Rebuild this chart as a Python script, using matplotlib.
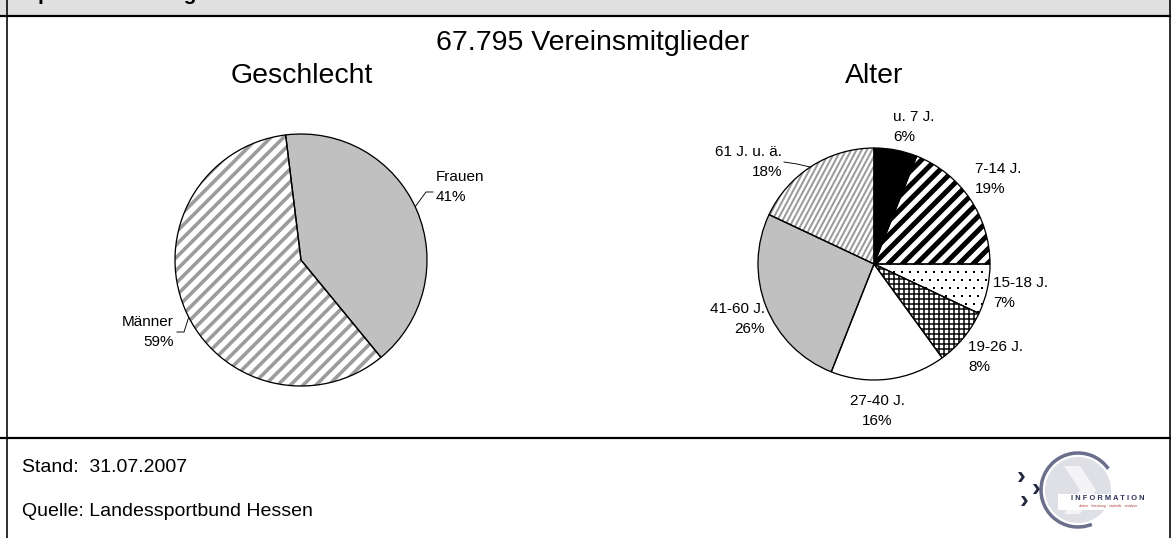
import numpy as np
import matplotlib
matplotlib.use('Agg')
import matplotlib.pyplot as plt
from matplotlib.collections import LineCollection
from matplotlib.patches import Rectangle, Circle, Arc, Polygon

# ---------------- data ----------------
header_text = "Sportvereinsmitglieder"
title = "67.795 Vereinsmitglieder"
gender_title = "Geschlecht"
gender_labels = ["Frauen", "Männer"]
gender_values = [41, 59]
age_title = "Alter"
age_labels = ["u. 7 J.", "7-14 J.", "15-18 J.", "19-26 J.", "27-40 J.", "41-60 J.", "61 J. u. ä."]
age_values = [6, 19, 7, 8, 16, 26, 18]
stand = "31.07.2007"
quelle = "Landessportbund Hessen"

W, H, DPI = 1171, 538, 100
plt.rcParams['font.family'] = ['Liberation Sans', 'DejaVu Sans']

fig = plt.figure(figsize=(W / DPI, H / DPI), dpi=DPI)
fig.patch.set_facecolor('white')
bg = fig.add_axes([0, 0, 1, 1])
bg.set_xlim(0, W)
bg.set_ylim(H, 0)
bg.axis('off')

PT = 72.0 / DPI  # points per pixel

# ---------------- frame ----------------
bg.add_patch(Rectangle((0, 0), W, 15, facecolor='#e0e0e0', edgecolor='none'))
bg.plot([0, W], [15.5, 15.5], color='black', lw=2.2 * PT, solid_capstyle='butt')
bg.plot([7, 7], [0, H], color='black', lw=1.6 * PT, solid_capstyle='butt')
bg.plot([W - 1, W - 1], [0, H], color='black', lw=1.6 * PT, solid_capstyle='butt')
bg.plot([0, W], [437.5, 437.5], color='black', lw=2.2 * PT, solid_capstyle='butt')
bg.text(24, -0.5, header_text, fontsize=15, fontweight='bold', va='baseline', ha='left')

# ---------------- titles ----------------
bg.text(593, 43, title, fontsize=20.5, ha='center', va='center')
bg.text(302, 76, gender_title, fontsize=20.5, ha='center', va='center')
bg.text(874, 76, age_title, fontsize=20.5, ha='center', va='center')


def pie_axes(cx, cy, r):
    half = 1.25 * r
    return fig.add_axes([(cx - half) / W, (H - cy - half) / H, 2 * half / W, 2 * half / H])


def stripes(ax, wedge, r_px, angle_deg, period_px, width_px, color):
    th = np.deg2rad(angle_deg)
    d = np.array([np.cos(th), np.sin(th)])
    n = np.array([-np.sin(th), np.cos(th)])
    s = period_px / r_px
    ks = np.arange(-int(1.5 / s) - 1, int(1.5 / s) + 2)
    segs = [[k * s * n - 1.6 * d, k * s * n + 1.6 * d] for k in ks]
    lc = LineCollection(segs, colors=color, linewidths=width_px * PT, zorder=2)
    ax.add_collection(lc)
    lc.set_clip_path(wedge)


def grid(ax, wedge, r_px, period_px, width_px, color):
    s = period_px / r_px
    ks = np.arange(-int(1.2 / s) - 1, int(1.2 / s) + 2)
    segs = [[(k * s, -1.2), (k * s, 1.2)] for k in ks] + [[(-1.2, k * s), (1.2, k * s)] for k in ks]
    lc = LineCollection(segs, colors=color, linewidths=width_px * PT, zorder=2)
    ax.add_collection(lc)
    lc.set_clip_path(wedge)


def dots(ax, wedge, r_px, period_px, size_px, color):
    s = period_px / r_px
    xs, ys = [], []
    ks = np.arange(-int(1.2 / s) - 1, int(1.2 / s) + 2)
    for j in ks:
        for i in ks:
            xs.append(i * s + (0.5 * s if j % 2 else 0))
            ys.append(j * s)
    sc = ax.scatter(xs, ys, s=(size_px * PT) ** 2, c=color, marker='s', linewidths=0, zorder=2)
    sc.set_clip_path(wedge)


# ---------------- Geschlecht pie ----------------
gcx, gcy, gr = 301, 260, 126
ax1 = pie_axes(gcx, gcy, gr)
w1, _ = ax1.pie(gender_values, colors=['#c0c0c0', 'white'], startangle=97, counterclock=False,
                wedgeprops=dict(edgecolor='none', linewidth=0))
stripes(ax1, w1[1], gr, 45, 9.0, 3.6, '#9c9c9c')
ax1.pie(gender_values, colors=['none', 'none'], startangle=97, counterclock=False,
        wedgeprops=dict(edgecolor='black', linewidth=1.3 * PT, fill=False, zorder=3))

LFS = 11.0
LSP = 1.55
bg.text(436, 187, f"{gender_labels[0]}\n{gender_values[0]}%", fontsize=LFS, ha='left', va='center',
        linespacing=LSP)
bg.plot([415, 426, 433], [207, 192, 192], color='black', lw=0.9 * PT)
bg.text(174, 332, f"{gender_labels[1]}\n{gender_values[1]}%", fontsize=LFS, ha='right', va='center',
        linespacing=LSP, multialignment='right')
bg.plot([177, 184, 190], [332, 332, 313], color='black', lw=0.9 * PT)

# ---------------- Alter pie ----------------
acx, acy, ar = 874, 264, 116
ax2 = pie_axes(acx, acy, ar)
age_colors = ['black', 'white', 'white', 'white', 'white', '#c0c0c0', 'white']
w2, _ = ax2.pie(age_values, colors=age_colors, startangle=90, counterclock=False,
                wedgeprops=dict(edgecolor='none', linewidth=0))
stripes(ax2, w2[1], ar, 45, 10.0, 5.0, 'black')
dots(ax2, w2[2], ar, 8.0, 1.6, 'black')
grid(ax2, w2[3], ar, 5.0, 1.5, 'black')
stripes(ax2, w2[6], ar, 62, 4.6, 2.0, '#9a9a9a')
ax2.pie(age_values, colors=['none'] * len(age_values), startangle=90, counterclock=False,
        wedgeprops=dict(edgecolor='black', linewidth=1.3 * PT, fill=False, zorder=3))

age_pos = [  # (x, y, ha)
    (893, 127, 'left'),
    (975, 179, 'left'),
    (993, 293, 'left'),
    (968, 357, 'left'),
    (877, 411, 'center'),
    (765, 319, 'right'),
    (782, 162, 'right'),
]
for lab, val, (x, y, ha) in zip(age_labels, age_values, age_pos):
    bg.text(x, y, f"{lab}\n{val}%", fontsize=LFS, ha=ha, va='center', linespacing=LSP,
            multialignment=ha)
bg.plot([784, 797, 810], [162, 164, 167], color='black', lw=0.9 * PT)

# ---------------- footer ----------------
bg.text(22, 468, f"Stand:  {stand}", fontsize=14, ha='left', va='center')
bg.text(22, 512, f"Quelle: {quelle}", fontsize=14, ha='left', va='center')

# ---------------- logo ----------------
lcx, lcy = 1078, 490
bg.add_patch(Circle((lcx, lcy), 33, facecolor='#dfe0e6', edgecolor='none'))
bg.add_patch(Polygon([(lcx - 14, lcy - 24), (lcx + 2, lcy - 24), (lcx + 18, lcy), (lcx + 2, lcy + 24),
                      (lcx - 14, lcy + 24), (lcx + 2, lcy)], closed=True, facecolor='#f4f4f7',
                     edgecolor='none'))
bg.add_patch(Arc((lcx, lcy), 74, 74, theta1=68, theta2=325, color='#6b6f8c', lw=3.5 * PT))
for (x, y) in [(1021, 477), (1036, 489), (1024, 501)]:
    bg.text(x, y, '›', fontsize=19, fontweight='bold', color='#23283f', ha='center', va='center')
bg.add_patch(Rectangle((1058, 494), 102, 16, facecolor='white', edgecolor='none'))
bg.text(1108, 499, 'I N F O R M A T I O N', fontsize=5.4, fontweight='bold', color='#2d3258',
        ha='center', va='center')
bg.text(1108, 506, '· daten · beratung · statistik · analyse ·', fontsize=2.6, color='#b04040',
        ha='center', va='center')

fig.savefig('out.png', dpi=DPI)
